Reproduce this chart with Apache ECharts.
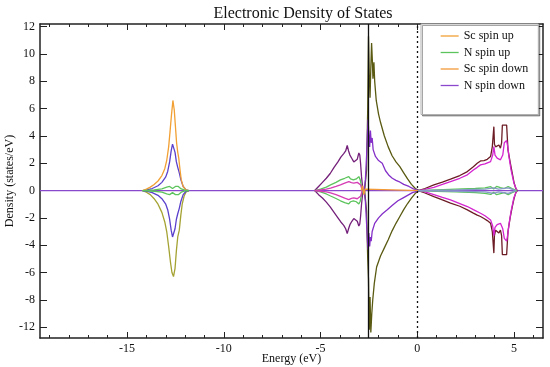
<!DOCTYPE html>
<html>
<head>
<meta charset="utf-8">
<script src="https://cdn.jsdelivr.net/npm/echarts@6/dist/echarts.min.js"></script>
<style>html,body{margin:0;padding:0;background:#fff}#c{width:550px;height:367px}</style>
</head>
<body>
<div id="c"></div>
<script>
// ---- axis ticks / labels ----
var xMajorTicks = [-15, -10, -5, 0, 5];
var xMinorTicks = [-19,-18,-17,-16,-15,-14,-13,-12,-11,-10,-9,-8,-7,-6,-5,-4,-3,-2,-1,0,1,2,3,4,5,6];
var yTickValues = [-10, -8, -6, -4, -2, 0, 2, 4, 6, 8, 10, 12];
var yTickLabels = ['-12', '-8', '-6', '-4', '-2', '0', '2', '4', '6', '8', '10', '12'];
var legendNames = ['Sc spin up', 'N spin up', 'Sc spin down', 'N spin down'];
var refLineSolid = -2.52;
var refLineFermi = 0;

// ---- baseline ----
var zeroLine = [[-19.5, 0], [6.5, 0]];
var orangeZeroC = [[-2.9,0],[-2.82,0.35],[-2.76,-0.3],[-2.7,0.1],[-2.65,0],[0.15,0]];

// ---- region around -12.6 eV ----
var scUpA = [[-14.2,0],[-14.0,0.1],[-13.8,0.25],[-13.6,0.45],[-13.4,0.7],[-13.2,1.1],[-13.05,1.6],[-12.95,2.2],[-12.85,3.2],[-12.78,4.3],[-12.7,5.6],[-12.63,6.6],[-12.56,5.9],[-12.5,4.7],[-12.44,3.5],[-12.38,2.8],[-12.33,2.4],[-12.26,1.5],[-12.2,0.8],[-12.1,0.3],[-11.95,0.05],[-11.8,0]];
var violetUpA = [[-14.2,0],[-14.0,0.05],[-13.7,0.15],[-13.4,0.35],[-13.2,0.6],[-13.0,1.0],[-12.9,1.4],[-12.8,2.1],[-12.72,2.9],[-12.65,3.4],[-12.58,3.3],[-12.52,2.8],[-12.45,2.1],[-12.38,1.7],[-12.3,1.3],[-12.22,0.8],[-12.1,0.3],[-11.95,0.05],[-11.8,0]];
var violetDownA = [[-14.2,0],[-14.0,-0.05],[-13.7,-0.15],[-13.4,-0.35],[-13.2,-0.6],[-13.0,-1.0],[-12.9,-1.4],[-12.8,-2.1],[-12.72,-2.9],[-12.65,-3.4],[-12.58,-3.3],[-12.52,-2.8],[-12.45,-2.1],[-12.38,-1.7],[-12.3,-1.3],[-12.22,-0.8],[-12.1,-0.3],[-11.95,-0.05],[-11.8,0]];
var oliveDownA = [[-14.2,0],[-14.0,-0.12],[-13.8,-0.3],[-13.6,-0.6],[-13.4,-1.0],[-13.2,-1.6],[-13.05,-2.3],[-12.95,-3.0],[-12.85,-4.1],[-12.76,-5.2],[-12.68,-6.0],[-12.6,-6.3],[-12.52,-5.7],[-12.45,-4.4],[-12.38,-3.4],[-12.3,-2.9],[-12.22,-1.8],[-12.15,-1.0],[-12.05,-0.4],[-11.95,-0.1],[-11.8,0]];
var greenUpA = [[-14.2,0],[-13.6,0.05],[-13.2,0.12],[-12.95,0.25],[-12.8,0.3],[-12.65,0.15],[-12.5,0.3],[-12.35,0.3],[-12.2,0.12],[-12.0,0.03],[-11.8,0]];
var greenDownA = [[-14.2,0],[-13.6,-0.05],[-13.2,-0.12],[-12.95,-0.25],[-12.8,-0.3],[-12.65,-0.15],[-12.5,-0.3],[-12.35,-0.3],[-12.2,-0.12],[-12.0,-0.03],[-11.8,0]];

// ---- region -5.3 to -2.8 eV ----
var darkPurpleUpB = [[-5.3,0],[-5.1,0.3],[-4.9,0.6],[-4.7,0.9],[-4.5,1.25],[-4.3,1.7],[-4.1,2.1],[-3.95,2.45],[-3.8,2.7],[-3.7,2.9],[-3.62,3.3],[-3.55,2.9],[-3.48,2.6],[-3.38,2.35],[-3.28,2.1],[-3.18,2.2],[-3.1,2.3],[-3.02,2.75],[-2.97,2.6],[-2.93,2.0],[-2.88,1.0],[-2.82,0.2],[-2.78,0]];
var darkPurpleDownB = [[-5.3,0],[-5.1,-0.3],[-4.9,-0.55],[-4.7,-0.85],[-4.5,-1.2],[-4.3,-1.6],[-4.1,-2.0],[-3.95,-2.3],[-3.8,-2.55],[-3.7,-2.8],[-3.62,-3.15],[-3.55,-2.8],[-3.48,-2.5],[-3.38,-2.25],[-3.28,-2.05],[-3.18,-2.15],[-3.1,-2.25],[-3.02,-2.6],[-2.97,-2.45],[-2.93,-1.9],[-2.88,-1.0],[-2.82,-0.2],[-2.78,0]];
var greenUpB = [[-5.3,0],[-5.0,0.1],[-4.7,0.25],[-4.48,0.42],[-4.2,0.6],[-3.97,0.78],[-3.75,0.9],[-3.54,1.02],[-3.45,0.85],[-3.3,0.78],[-3.15,0.85],[-3.02,1.02],[-2.95,0.8],[-2.88,0.3],[-2.82,0]];
var greenDownB = [[-5.3,0],[-5.0,-0.1],[-4.7,-0.25],[-4.48,-0.4],[-4.2,-0.58],[-3.97,-0.75],[-3.75,-0.88],[-3.54,-0.98],[-3.45,-0.82],[-3.3,-0.75],[-3.15,-0.82],[-3.02,-0.98],[-2.95,-0.8],[-2.88,-0.3],[-2.82,0]];
var magentaUpB = [[-5.3,0],[-5.0,0.05],[-4.7,0.1],[-4.48,0.17],[-4.2,0.3],[-3.97,0.42],[-3.75,0.55],[-3.54,0.66],[-3.4,0.58],[-3.28,0.54],[-3.1,0.6],[-3.0,0.66],[-2.92,0.4],[-2.85,0]];
var magentaDownB = [[-5.3,0],[-5.0,-0.05],[-4.7,-0.1],[-4.48,-0.17],[-4.2,-0.3],[-3.97,-0.42],[-3.75,-0.55],[-3.54,-0.66],[-3.4,-0.58],[-3.28,-0.54],[-3.1,-0.6],[-3.0,-0.66],[-2.92,-0.4],[-2.85,0]];

// ---- region -2.75 to 0 eV ----
var oliveUpC = [[-2.72,0],[-2.62,1.5],[-2.56,6.0],[-2.52,11.3],[-2.48,8.5],[-2.44,6.8],[-2.4,9.0],[-2.36,10.8],[-2.32,9.5],[-2.29,8.2],[-2.24,9.4],[-2.2,8.0],[-2.12,6.6],[-2.0,5.6],[-1.9,5.0],[-1.7,4.0],[-1.5,3.2],[-1.3,2.55],[-1.1,2.1],[-0.9,1.75],[-0.7,1.3],[-0.5,0.85],[-0.3,0.45],[-0.1,0.15],[0.1,0]];
var oliveDownC = [[-2.72,0],[-2.62,-1.5],[-2.56,-5.0],[-2.52,-6.5],[-2.48,-10.2],[-2.44,-7.8],[-2.4,-10.4],[-2.35,-9.0],[-2.3,-8.0],[-2.22,-6.8],[-2.1,-5.6],[-1.9,-4.8],[-1.7,-4.2],[-1.5,-3.6],[-1.3,-2.95],[-1.1,-2.4],[-0.9,-1.9],[-0.7,-1.4],[-0.5,-0.95],[-0.3,-0.55],[-0.1,-0.2],[0.1,0]];
var purpleUpC = [[-2.75,0],[-2.68,0.8],[-2.62,2.5],[-2.57,4.4],[-2.54,5.2],[-2.5,4.0],[-2.46,3.2],[-2.42,4.4],[-2.38,3.5],[-2.33,3.85],[-2.28,3.0],[-2.16,2.5],[-2.0,2.2],[-1.81,2.0],[-1.64,1.45],[-1.45,1.1],[-1.29,0.9],[-1.1,0.75],[-0.95,0.66],[-0.7,0.45],[-0.43,0.3],[-0.2,0.12],[0.1,0]];
var purpleDownC = [[-2.75,0],[-2.68,-0.8],[-2.62,-2.4],[-2.57,-3.8],[-2.54,-4.34],[-2.5,-3.12],[-2.46,-4.1],[-2.42,-3.4],[-2.38,-3.7],[-2.33,-3.0],[-2.2,-2.4],[-2.0,-2.0],[-1.8,-1.7],[-1.55,-1.41],[-1.3,-1.1],[-1.0,-0.75],[-0.75,-0.55],[-0.5,-0.35],[-0.25,-0.15],[0.1,0]];

// ---- region 0 to 5.2 eV ----
var brownUpD = [[0.05,0],[0.4,0.15],[0.86,0.42],[1.3,0.62],[1.72,0.83],[2.2,1.1],[2.59,1.39],[2.9,1.75],[3.1,2.0],[3.27,2.17],[3.45,2.2],[3.62,2.29],[3.79,2.49],[3.88,3.22],[3.96,4.68],[3.99,3.4],[4.05,3.2],[4.15,3.3],[4.22,3.34],[4.3,3.1],[4.36,3.5],[4.4,4.8],[4.62,4.8],[4.69,2.98],[4.8,2.1],[4.91,1.27],[5.0,0.6],[5.09,0.17],[5.17,0]];
var brownDownD = [[0.05,0],[0.4,-0.18],[0.86,-0.44],[1.3,-0.68],[1.72,-0.92],[2.2,-1.15],[2.59,-1.41],[2.9,-1.65],[3.1,-1.8],[3.27,-1.9],[3.45,-2.05],[3.62,-2.2],[3.79,-2.39],[3.88,-3.0],[3.96,-4.58],[3.99,-3.3],[4.05,-2.9],[4.15,-3.0],[4.22,-3.1],[4.3,-2.9],[4.36,-3.3],[4.4,-4.7],[4.62,-4.7],[4.69,-3.0],[4.8,-2.0],[4.91,-1.2],[5.0,-0.6],[5.09,-0.17],[5.17,0]];
var magentaUpD = [[0.05,0],[0.4,0.08],[0.86,0.24],[1.3,0.45],[1.72,0.66],[2.2,0.9],[2.59,1.15],[2.9,1.5],[3.1,1.7],[3.27,1.88],[3.5,1.95],[3.79,2.12],[3.9,2.6],[3.96,3.22],[4.02,2.6],[4.13,2.37],[4.3,2.25],[4.42,2.6],[4.5,3.5],[4.53,3.58],[4.62,3.66],[4.68,3.2],[4.74,2.49],[4.85,1.5],[5.0,0.54],[5.15,0]];
var magentaDownD = [[0.05,0],[0.4,-0.1],[0.86,-0.3],[1.3,-0.5],[1.72,-0.68],[2.2,-0.95],[2.59,-1.17],[2.9,-1.4],[3.27,-1.66],[3.5,-1.85],[3.79,-2.15],[3.9,-2.6],[3.96,-3.3],[4.02,-2.7],[4.13,-2.5],[4.3,-2.4],[4.42,-2.8],[4.5,-3.5],[4.62,-3.7],[4.68,-3.2],[4.74,-2.5],[4.85,-1.5],[5.0,-0.5],[5.15,0]];
var greenUpD = [[0.05,0],[1.0,0.05],[2.0,0.1],[3.0,0.15],[3.5,0.2],[3.8,0.28],[3.95,0.12],[4.1,0.3],[4.3,0.22],[4.5,0.15],[4.7,0.3],[4.9,0.15],[5.15,0]];
var greenDownD = [[0.05,0],[1.0,-0.05],[2.0,-0.1],[3.0,-0.15],[3.5,-0.2],[3.8,-0.28],[3.95,-0.12],[4.1,-0.3],[4.3,-0.22],[4.5,-0.15],[4.7,-0.3],[4.9,-0.15],[5.15,0]];
var greyUpD = [[0.05,0],[2.0,0.05],[3.5,0.1],[3.95,0.2],[4.2,0.1],[4.7,0.2],[5.1,0]];
var greyDownD = [[0.05,0],[2.0,-0.05],[3.5,-0.1],[3.95,-0.2],[4.2,-0.1],[4.7,-0.2],[5.1,0]];

var FONT = 'Liberation Serif';
var AX = '#222';

function ln(name, data, color, extra) {
  var s = {
    name: name, type: 'line', data: data, showSymbol: false, symbol: 'none',
    xAxisIndex: 0, yAxisIndex: 0,
    lineStyle: { color: color, width: 1.3 }, itemStyle: { color: color },
    emphasis: { disabled: true }, silent: true, animation: false
  };
  if (extra) for (var k in extra) s[k] = extra[k];
  return s;
}

var series = [
  ln('N spin down', zeroLine, '#8a48cc', {
    markLine: {
      silent: true, symbol: 'none', label: { show: false }, animation: false,
      data: [
        { xAxis: refLineSolid, lineStyle: { color: '#111', width: 1.3, type: 'solid' } },
        { xAxis: refLineFermi, lineStyle: { color: '#111', width: 1.3, type: [2, 3] } }
      ]
    }
  }),
  ln('A1', oliveDownA, '#a4a232'),
  ln('A2', violetDownA, '#5a40cc'),
  ln('A3', violetUpA, '#5a40cc'),
  ln('Sc spin up', scUpA, '#f2a033'),
  ln('N spin up', greenUpA, '#5cc45c'),
  ln('N spin up', greenDownA, '#5cc45c'),
  ln('B1', darkPurpleUpB, '#74207a'),
  ln('B2', darkPurpleDownB, '#74207a'),
  ln('N spin up', greenUpB, '#5cc45c'),
  ln('N spin up', greenDownB, '#5cc45c'),
  ln('B3', magentaUpB, '#d63cb4'),
  ln('B4', magentaDownB, '#d63cb4'),
  ln('C1', oliveUpC, '#5a5a12'),
  ln('C2', oliveDownC, '#5a5a12'),
  ln('C3', purpleUpC, '#8430c8'),
  ln('C4', purpleDownC, '#8430c8'),
  ln('Sc spin down', orangeZeroC, '#f29a38'),
  ln('D1', brownUpD, '#6c1c24'),
  ln('D2', brownDownD, '#6c1c24'),
  ln('D3', magentaUpD, '#d424d0'),
  ln('D4', magentaDownD, '#d424d0'),
  ln('N spin up', greenUpD, '#5cc45c'),
  ln('N spin up', greenDownD, '#5cc45c'),
  ln('D5', greyUpD, '#8898c8'),
  ln('D6', greyDownD, '#8898c8')
];

var gridRect = { left: 40, top: 24, right: 7, bottom: 29, containLabel: false, outerBoundsMode: 'none' };
function xa(pos, ticks, len, gridIndex, lineShow, labels) {
  return {
    type: 'value', gridIndex: gridIndex, position: pos, min: -19.5, max: 6.5,
    axisLine: { show: lineShow, onZero: false, lineStyle: { color: AX, width: 1.5 } },
    axisTick: { show: true, inside: true, length: len, customValues: ticks, lineStyle: { color: AX, width: 1 } },
    axisLabel: labels ? { show: true, customValues: xMajorTicks, color: '#111', fontFamily: FONT, fontSize: 12, margin: 5 } : { show: false },
    splitLine: { show: false }
  };
}
var xAxes = [
  xa('bottom', xMajorTicks, 6, 0, true, true),
  xa('top', xMajorTicks, 6, 0, true, false),
  xa('bottom', xMinorTicks, 3, 1, false, false),
  xa('top', xMinorTicks, 3, 1, false, false)
];
xAxes[0].name = 'Energy (eV)';
xAxes[0].nameLocation = 'middle';
xAxes[0].nameGap = 15;
xAxes[0].nameMoveOverlap = false;
xAxes[0].nameTextStyle = { color: '#111', fontFamily: FONT, fontSize: 12 };

function ya(pos, gridIndex, show, labels) {
  return {
    type: 'value', gridIndex: gridIndex, position: pos, min: -10.8, max: 12.2,
    axisLine: { show: show, onZero: false, lineStyle: { color: AX, width: 1.5 } },
    axisTick: { show: show, inside: true, length: 7, customValues: yTickValues, lineStyle: { color: AX, width: 1 } },
    axisLabel: labels ? {
      show: true, customValues: yTickValues, color: '#111', fontFamily: FONT, fontSize: 12, margin: 5,
      formatter: function (v) { var i = yTickValues.indexOf(v); return i >= 0 ? yTickLabels[i] : ''; }
    } : { show: false },
    splitLine: { show: false }
  };
}
var yAxes = [ya('left', 0, true, true), ya('right', 0, true, false), ya('left', 1, false, false)];
yAxes[0].name = 'Density (states/eV)';
yAxes[0].nameLocation = 'middle';
yAxes[0].nameGap = 24;
yAxes[0].nameMoveOverlap = false;
yAxes[0].nameTextStyle = { color: '#111', fontFamily: FONT, fontSize: 12 };

var option = {
  animation: false,
  backgroundColor: '#fff',
  title: {
    text: 'Electronic Density of States', left: 298, top: 1, textAlign: 'center',
    textStyle: { fontFamily: FONT, fontSize: 16, fontWeight: 'normal', color: '#111' }
  },
  legend: {
    data: legendNames, orient: 'vertical', left: 421, top: 24,
    padding: [6, 10, 23, 19], itemGap: 4.5, itemWidth: 18, itemHeight: 10,
    backgroundColor: '#fff', borderColor: '#b0b0b0', borderWidth: 1,
    shadowColor: 'rgba(0,0,0,0.35)', shadowOffsetX: 1.5, shadowOffsetY: 1.5, shadowBlur: 0,
    itemStyle: { opacity: 0 },
    lineStyle: { width: 1.3 },
    textStyle: { fontFamily: FONT, fontSize: 12, color: '#111' },
    selectedMode: false
  },
  grid: [Object.assign({}, gridRect), Object.assign({}, gridRect)],
  xAxis: xAxes,
  yAxis: yAxes,
  series: series
};
var chart = echarts.init(document.getElementById('c'), null, { renderer: 'canvas' });
chart.setOption(option);
</script>
</body>
</html>
